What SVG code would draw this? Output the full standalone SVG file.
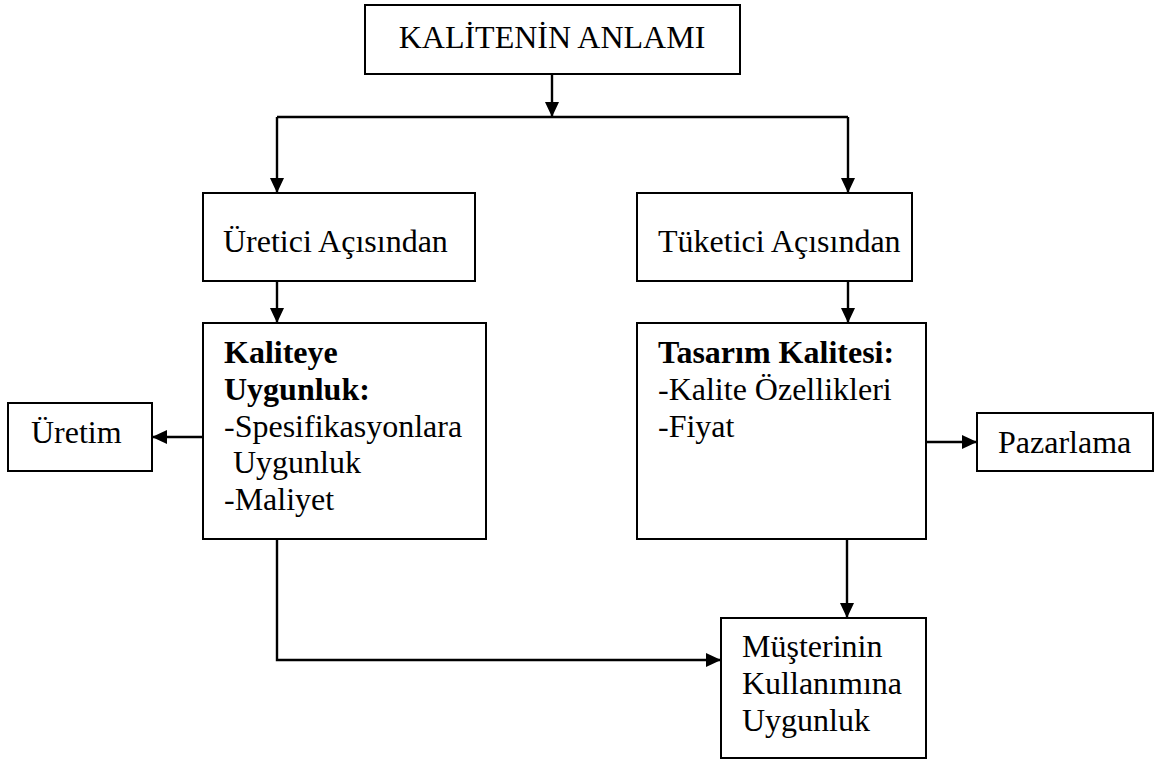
<svg xmlns="http://www.w3.org/2000/svg" width="1155" height="760" viewBox="0 0 1155 760">
  <style>
    .box { fill: #ffffff; stroke: #000000; stroke-width: 2; }
    .txt { font-family: "Liberation Serif", "Times New Roman", serif; font-size: 32px; fill: #000000; }
    .b { font-weight: bold; }
    .link { fill: none; stroke: #000000; stroke-width: 2.4; }
  </style>
  <defs>
    <marker id="arrow" markerUnits="userSpaceOnUse" markerWidth="16" markerHeight="14" refX="15" refY="7" orient="auto">
      <path d="M0,0 L15,7 L0,14 Z" fill="#000000"/>
    </marker>
  </defs>

  <!-- connectors -->
  <g id="connectors">
    <path class="link" d="M552,74 V117" marker-end="url(#arrow)"/>
    <path class="link" d="M277,117 H848"/>
    <path class="link" d="M277,117 V193" marker-end="url(#arrow)"/>
    <path class="link" d="M848,117 V193" marker-end="url(#arrow)"/>
    <path class="link" d="M277,281 V323" marker-end="url(#arrow)"/>
    <path class="link" d="M848,281 V323" marker-end="url(#arrow)"/>
    <path class="link" d="M203,437 H152" marker-end="url(#arrow)"/>
    <path class="link" d="M926,442 H977" marker-end="url(#arrow)"/>
    <path class="link" d="M277,539 V660 H721" marker-end="url(#arrow)"/>
    <path class="link" d="M847,539 V618" marker-end="url(#arrow)"/>
  </g>

  <!-- top node -->
  <g id="kalitenin-anlami">
    <rect class="box" x="365" y="5" width="375" height="69"/>
    <text class="txt" x="552" y="48" text-anchor="middle">KALİTENİN ANLAMI</text>
  </g>

  <g id="uretici">
    <rect class="box" x="203" y="193" width="272" height="88"/>
    <text class="txt" x="223" y="252">Üretici Açısından</text>
  </g>

  <g id="tuketici">
    <rect class="box" x="637" y="193" width="275" height="88"/>
    <text class="txt" x="658" y="252">Tüketici Açısından</text>
  </g>

  <g id="kaliteye-uygunluk">
    <rect class="box" x="203" y="323" width="283" height="216"/>
    <text class="txt b" x="224" y="363">Kaliteye</text>
    <text class="txt b" x="224" y="400">Uygunluk:</text>
    <text class="txt" x="224" y="437">-Spesifikasyonlara</text>
    <text class="txt" x="233" y="473">Uygunluk</text>
    <text class="txt" x="224" y="510">-Maliyet</text>
  </g>

  <g id="tasarim-kalitesi">
    <rect class="box" x="637" y="323" width="289" height="216"/>
    <text class="txt b" x="658" y="363">Tasarım Kalitesi:</text>
    <text class="txt" x="658" y="400">-Kalite Özellikleri</text>
    <text class="txt" x="658" y="437">-Fiyat</text>
  </g>

  <g id="uretim">
    <rect class="box" x="8" y="403" width="144" height="68"/>
    <text class="txt" x="31" y="443">Üretim</text>
  </g>

  <g id="pazarlama">
    <rect class="box" x="977" y="413" width="176" height="58"/>
    <text class="txt" x="998" y="453">Pazarlama</text>
  </g>

  <g id="musterinin-kullanimina-uygunluk">
    <rect class="box" x="721" y="618" width="205" height="140"/>
    <text class="txt" x="742" y="657">Müşterinin</text>
    <text class="txt" x="742" y="694">Kullanımına</text>
    <text class="txt" x="742" y="731">Uygunluk</text>
  </g>
</svg>
